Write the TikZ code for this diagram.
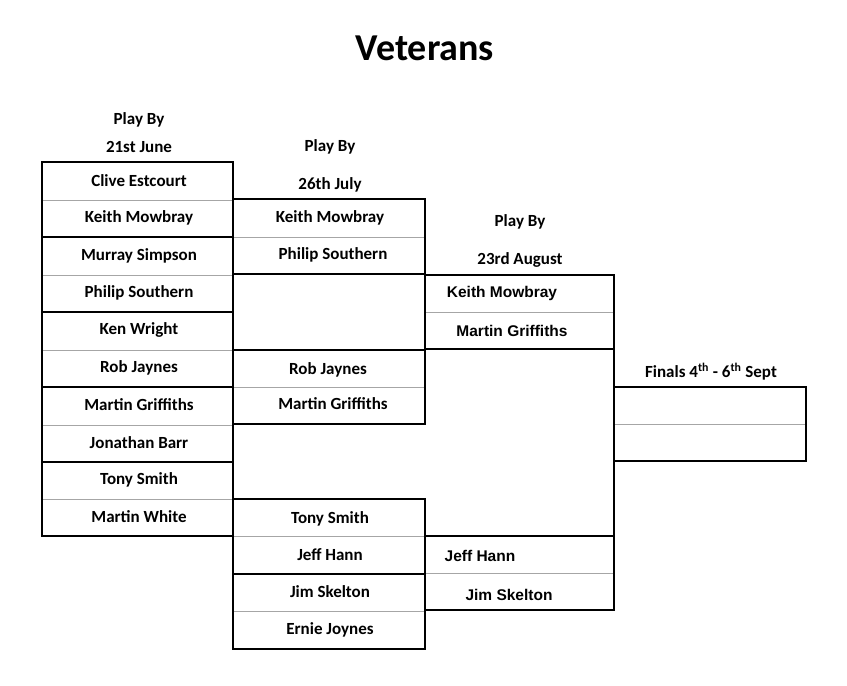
\documentclass[tikz,border=0pt]{standalone}
\usepackage{fontspec}
\setmainfont{Carlito}
\newfontfamily\arialfont{Liberation Sans}
\tikzset{every picture/.style={line width=0.75pt}}
\tikzset{
  box/.style={line width=2.6pt},
  sep/.style={line width=0.8pt, draw=black!35},
  player/.style={font=\fontsize{17}{17}\selectfont\bfseries, inner sep=0.75pt},
  aplayer/.style={font=\arialfont\fontsize{15.5}{15.5}\selectfont\bfseries, inner sep=0.75pt},
  roundhead/.style={font=\fontsize{17}{17}\selectfont\bfseries, inner sep=0.75pt}
}
\begin{document}
\begin{tikzpicture}[x=1pt,y=1pt,yscale=-1,xscale=1]
\useasboundingbox (0,0) rectangle (847,686);

% Title
\node[font=\fontsize{38}{38}\selectfont\bfseries] (title) at (425,48) {Veterans};

% Headers
\node[roundhead] (h1a) at (139,120) {Play By};
\node[roundhead] (h1b) at (139,147) {21st June};
\node[roundhead] (h2a) at (330,147) {Play By};
\node[roundhead] (h2b) at (330,185) {26th July};
\node[roundhead] (h3a) at (520,222) {Play By};
\node[roundhead] (h3b) at (520,260) {23rd August};
\node[roundhead] (h4) at (711,372) {Finals 4\textsuperscript{th} - 6\textsuperscript{th} Sept};

% Round 1 separators
\foreach \y in {200,275,350,425,499}
  \draw[sep] (42,\y) -- (233,\y);
% Round 1 boxes
\foreach \t/\b in {162/237,237/312,312/387,387/462,462/536}
  \draw[box] (42,\t) rectangle (233,\b);

% Round 2
\draw[sep] (233,237) -- (425,237);
\draw[sep] (233,387) -- (425,387);
\draw[sep] (233,536) -- (425,536);
\draw[sep] (233,611) -- (425,611);
\draw[box] (233,199) rectangle (425,274);
\draw[box] (233,350) rectangle (425,424);
\draw[box] (233,499) rectangle (425,574);
\draw[box] (233,574) rectangle (425,649);

% Round 3
\draw[sep] (425,312) -- (614,312);
\draw[sep] (425,573) -- (614,573);
\draw[box] (425,275) rectangle (614,349);
\draw[box] (425,536) rectangle (614,610);
\draw[box] (614,349) -- (614,536);

% Final
\draw[sep] (614,424) -- (806,424);
\draw[box] (614,387) rectangle (806,461);

% Round 1 players
\node[player] (r1a) at (139,181) {Clive Estcourt};
\node[player] (r1b) at (139,218) {Keith Mowbray};
\node[player] (r1c) at (139,256) {Murray Simpson};
\node[player] (r1d) at (139,293) {Philip Southern};
\node[player] (r1e) at (139,330) {Ken Wright};
\node[player] (r1f) at (139,368) {Rob Jaynes};
\node[player] (r1g) at (139,405) {Martin Griffiths};
\node[player] (r1h) at (139,443) {Jonathan Barr};
\node[player] (r1i) at (139,480) {Tony Smith};
\node[player] (r1j) at (139,517) {Martin White};

% Round 2 players
\node[player] (r2a) at (330,218) {Keith Mowbray};
\node[player] (r2b) at (333,255) {Philip Southern};
\node[player] (r2c) at (328,370) {Rob Jaynes};
\node[player] (r2d) at (333,404) {Martin Griffiths};
\node[player] (r2e) at (330,519) {Tony Smith};
\node[player] (r2f) at (330,555) {Jeff Hann};
\node[player] (r2g) at (330,592) {Jim Skelton};
\node[player] (r2h) at (330,630) {Ernie Joynes};

% Round 3 players
\node[aplayer] (r3a) at (502,293) {Keith Mowbray};
\node[aplayer] (r3b) at (512,331) {Martin Griffiths};
\node[aplayer] (r3c) at (480,556) {Jeff Hann};
\node[aplayer] (r3d) at (509,595) {Jim Skelton};

\end{tikzpicture}
\end{document}
